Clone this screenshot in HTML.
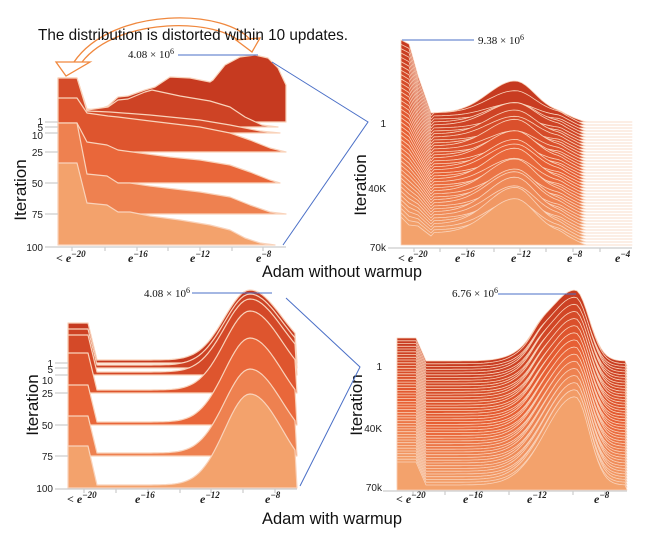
<!DOCTYPE html>
<html><head><meta charset="utf-8"><style>
html,body{margin:0;padding:0;background:#fff;}
svg{display:block;}
.tk{font-family:"Liberation Serif",serif;font-style:italic;font-size:12px;font-weight:bold;fill:#222;}
.tk tspan.s{font-size:9px;}
.yl{font-family:"Liberation Sans",sans-serif;font-size:10px;fill:#222;}
.it{font-family:"Liberation Sans",sans-serif;font-size:17px;fill:#111;}
.cap{font-family:"Liberation Sans",sans-serif;font-size:17px;fill:#111;}
.num{font-family:"Liberation Serif",serif;font-size:11px;fill:#111;}
</style></head><body>
<svg id="s" width="650" height="539" viewBox="0 0 650 539" xmlns="http://www.w3.org/2000/svg">
<!-- arrows -->
<g fill="none" stroke="#f0883e" stroke-width="1.3">
<path d="M252,42 C228,8 112,6 74,62"/>
<path d="M242,44 C220,18 118,16 82,62"/>
</g>
<path d="M56,62 L90,62 L66,76 Z" fill="#fff" stroke="#f0883e" stroke-width="1.3"/>
<path d="M236,40 L260,38 L252,52 Z" fill="#fff" stroke="#f0883e" stroke-width="1.3"/>
<text x="38" y="40" font-family="Liberation Sans, sans-serif" font-size="16" textLength="310" lengthAdjust="spacingAndGlyphs" fill="#111">The distribution is distorted within 10 updates.</text>
<g id="p1"></g><g id="p2"></g><g id="p3"></g><g id="p4"></g>
<!-- panel1 axes -->
<g stroke="#ccc" stroke-width="1.2">
<line x1="45" y1="122" x2="58" y2="122"/><line x1="45" y1="127" x2="58" y2="127"/><line x1="45" y1="133" x2="58" y2="133"/><line x1="45" y1="152" x2="58" y2="152"/><line x1="45" y1="183" x2="58" y2="183"/><line x1="45" y1="214" x2="58" y2="214"/>
<line x1="45" y1="247" x2="286" y2="247"/>
<line x1="72" y1="247" x2="72" y2="251"/><line x1="105" y1="247" x2="105" y2="251"/><line x1="137" y1="247" x2="137" y2="251"/><line x1="168" y1="247" x2="168" y2="251"/><line x1="200" y1="247" x2="200" y2="251"/><line x1="232" y1="247" x2="232" y2="251"/><line x1="263" y1="247" x2="263" y2="251"/>
</g>
<g class="yl" text-anchor="end">
<text x="43" y="125">1</text><text x="43" y="131">5</text><text x="43" y="139">10</text><text x="43" y="156">25</text><text x="43" y="187">50</text><text x="43" y="218">75</text><text x="43" y="251">100</text>
</g>
<text class="it" transform="translate(26,190) rotate(-90)" text-anchor="middle">Iteration</text>
<g class="tk">
<text x="56" y="262">&lt; e<tspan class="s" dy="-5">−20</tspan></text>
<text x="128" y="262">e<tspan class="s" dy="-5">−16</tspan></text>
<text x="190" y="262">e<tspan class="s" dy="-5">−12</tspan></text>
<text x="256" y="262">e<tspan class="s" dy="-5">−8</tspan></text>
</g>
<text class="num" x="128" y="58">4.08 × 10<tspan font-size="8" dy="-4">6</tspan></text>
<!-- panel2 axes -->
<g stroke="#ccc" stroke-width="1.2"><line x1="388" y1="248" x2="632" y2="248"/>
<line x1="414" y1="248" x2="414" y2="252"/><line x1="440" y1="248" x2="440" y2="252"/><line x1="467" y1="248" x2="467" y2="252"/><line x1="494" y1="248" x2="494" y2="252"/><line x1="520" y1="248" x2="520" y2="252"/><line x1="546" y1="248" x2="546" y2="252"/><line x1="573" y1="248" x2="573" y2="252"/><line x1="600" y1="248" x2="600" y2="252"/></g>
<g class="yl" text-anchor="end"><text x="386" y="127">1</text><text x="386" y="192">40K</text><text x="386" y="251">70k</text></g>
<text class="it" transform="translate(366,185) rotate(-90)" text-anchor="middle">Iteration</text>
<g class="tk">
<text x="398" y="262">&lt; e<tspan class="s" dy="-5">−20</tspan></text>
<text x="455" y="262">e<tspan class="s" dy="-5">−16</tspan></text>
<text x="511" y="262">e<tspan class="s" dy="-5">−12</tspan></text>
<text x="567" y="262">e<tspan class="s" dy="-5">−8</tspan></text>
<text x="615" y="262">e<tspan class="s" dy="-5">−4</tspan></text>
</g>
<text class="num" x="478" y="44">9.38 × 10<tspan font-size="8" dy="-4">6</tspan></text>
<text class="cap" x="262" y="277" textLength="160" lengthAdjust="spacingAndGlyphs">Adam without warmup</text>
<!-- panel3 axes -->
<g stroke="#ccc" stroke-width="1.2">
<line x1="55" y1="363" x2="68" y2="363"/><line x1="55" y1="368" x2="68" y2="368"/><line x1="55" y1="375" x2="68" y2="375"/><line x1="55" y1="393" x2="68" y2="393"/><line x1="55" y1="425" x2="68" y2="425"/><line x1="55" y1="456" x2="68" y2="456"/>
<line x1="55" y1="489" x2="297" y2="489"/>
<line x1="84" y1="489" x2="84" y2="493"/><line x1="116" y1="489" x2="116" y2="493"/><line x1="148" y1="489" x2="148" y2="493"/><line x1="180" y1="489" x2="180" y2="493"/><line x1="211" y1="489" x2="211" y2="493"/><line x1="243" y1="489" x2="243" y2="493"/><line x1="275" y1="489" x2="275" y2="493"/>
</g>
<g class="yl" text-anchor="end">
<text x="53" y="367">1</text><text x="53" y="373">5</text><text x="53" y="384">10</text><text x="53" y="397">25</text><text x="53" y="429">50</text><text x="53" y="460">75</text><text x="53" y="492">100</text>
</g>
<text class="it" transform="translate(38,405) rotate(-90)" text-anchor="middle">Iteration</text>
<g class="tk">
<text x="67" y="503">&lt; e<tspan class="s" dy="-5">−20</tspan></text>
<text x="135" y="503">e<tspan class="s" dy="-5">−16</tspan></text>
<text x="200" y="503">e<tspan class="s" dy="-5">−12</tspan></text>
<text x="265" y="503">e<tspan class="s" dy="-5">−8</tspan></text>
</g>
<text class="num" x="144" y="297">4.08 × 10<tspan font-size="8" dy="-4">6</tspan></text>
<!-- panel4 axes -->
<g stroke="#ccc" stroke-width="1.2"><line x1="383" y1="491" x2="627" y2="491"/>
<line x1="413" y1="491" x2="413" y2="495"/><line x1="445" y1="491" x2="445" y2="495"/><line x1="477" y1="491" x2="477" y2="495"/><line x1="509" y1="491" x2="509" y2="495"/><line x1="541" y1="491" x2="541" y2="495"/><line x1="573" y1="491" x2="573" y2="495"/><line x1="605" y1="491" x2="605" y2="495"/></g>
<g class="yl" text-anchor="end"><text x="382" y="370">1</text><text x="382" y="432">40K</text><text x="382" y="491">70k</text></g>
<text class="it" transform="translate(362,405) rotate(-90)" text-anchor="middle">Iteration</text>
<g class="tk">
<text x="396" y="503">&lt; e<tspan class="s" dy="-5">−20</tspan></text>
<text x="463" y="503">e<tspan class="s" dy="-5">−16</tspan></text>
<text x="527" y="503">e<tspan class="s" dy="-5">−12</tspan></text>
<text x="594" y="503">e<tspan class="s" dy="-5">−8</tspan></text>
</g>
<text class="num" x="452" y="297">6.76 × 10<tspan font-size="8" dy="-4">6</tspan></text>
<text class="cap" x="262" y="524" textLength="140" lengthAdjust="spacingAndGlyphs">Adam with warmup</text>
<!-- blue lines -->
<g stroke="#4a6fc7" stroke-width="1" fill="none">
<line x1="178" y1="55" x2="258" y2="55"/>
<polyline points="272,62 368,122 283,245"/>
<line x1="402" y1="40" x2="474" y2="40"/>
<line x1="192" y1="293" x2="272" y2="293"/>
<polyline points="286,298 360,367 300,486"/>
<line x1="498" y1="294" x2="576" y2="294"/>
</g>
</svg>
<script>
var NS="http://www.w3.org/2000/svg";
function col(t){var a=[198,58,32],m=[232,96,52],b=[243,162,108];var c=[];for(var i=0;i<3;i++){c.push(Math.round(t<0.5?a[i]+(m[i]-a[i])*t*2:m[i]+(b[i]-m[i])*(t-0.5)*2));}return "rgb("+c.join(",")+")";}
function add(g,pts,fill,sw){var p=document.createElementNS(NS,"polygon");p.setAttribute("points",pts.map(function(q){return q[0].toFixed(1)+","+q[1].toFixed(1)}).join(" "));p.setAttribute("fill",fill);p.setAttribute("stroke","#f9d3bb");p.setAttribute("stroke-width",sw||1);p.setAttribute("stroke-linejoin","round");document.getElementById(g).appendChild(p);}
function P(s){return s.trim().split(/\s+/).map(function(a){var v=a.split(",");return [+v[0],+v[1]];});}
// panel1
var L1=[
["58,122 58,78 77,78 87,109 97,110 108,106 118,97 128,96 145,90 155,87 170,77 190,78 210,82 213,80 225,65 240,57 255,55 268,58 278,68 286,85 286,122",0],
["58,127 58,78 77,78 87,110 108,107 118,100 128,99 145,92 152,90 180,96 210,101 230,107 245,117 262,125 278,127",0.12],
["58,133 58,78 77,78 87,111 110,112 150,115 200,120 230,125 260,131 280,133",0.22],
["58,152 58,98 77,98 87,113 108,116 118,117 150,121 200,127 230,133 250,140 270,148 286,152",0.36],
["58,183 58,123 77,123 87,142 107,145 118,150 140,153 170,157 200,160 230,165 250,172 270,180 280,183",0.55],
["58,214 58,123 77,123 87,174 107,176 118,183 130,183 150,186 200,192 230,197 250,205 270,212 286,214",0.75],
["58,245 58,163 77,163 87,203 107,205 118,212 130,212 150,216 180,220 210,225 230,230 245,238 260,243 275,245",1]];
L1.forEach(function(l){add("p1",P(l[0]),col(l[1]),1.2);});
// panel2
var N=42;
for(var k=0;k<N;k++){var t=k/(N-1);var b=122+t*123;var lt=40+t*177;var A=(k==0?32:14+8*Math.sin(k*1.7)+t*16);
var pts=[[401,b],[401,lt],[409,lt+4+t*4],[418,lt+(b-10-lt)*0.5],[431,b-9]];
for(var x=434;x<=632;x+=4){var f=x<560?1:Math.max(0,1-(x-560)/25);var h=(k==0?9:12)*f+A*Math.exp(-Math.pow((x-515)/(x<515?38:28),2))*(x<600?1:Math.max(0,1-(x-600)/20));pts.push([x,b-h]);}
pts.push([632,b]);add("p2",pts,col(t),0.8);}
// panel3
var L3=[[363,323,70,0],[368,329,71,0.1],[375,335,73,0.2],[393,353,79,0.35],[425,385,84,0.55],[456,416,84,0.75],[488,446,91,1]];
L3.forEach(function(l){var b=l[0],lt=l[1],A=l[2],t=l[3];var pts=[[68,b],[68,lt],[88,lt],[97,b-3]];
for(var x=100;x<=297;x+=3){var s=x<250?36:46;var h=3+A*Math.exp(-Math.pow((x-250)/s,2));pts.push([x,b-h]);}
pts.push([297,b]);add("p3",pts,col(t),1.2);});
// panel4
var M=46;
for(var k=0;k<M;k++){var t=k/(M-1);var b=366+t*124;var lt=338+t*124;var A=69+t*18+5*Math.sin(k*2.1);
var pts=[[397,b],[397,lt],[416,lt],[426,b-5]];
for(var x=430;x<=627;x+=3){var s=x<575?42:20;var h=5+A*Math.exp(-Math.pow((x-575)/s,2))+6*(1-t)*Math.exp(-Math.pow((x-540)/12,2));pts.push([x,b-h]);}
pts.push([627,b]);add("p4",pts,col(t),0.8);}
</script>
</body></html>
